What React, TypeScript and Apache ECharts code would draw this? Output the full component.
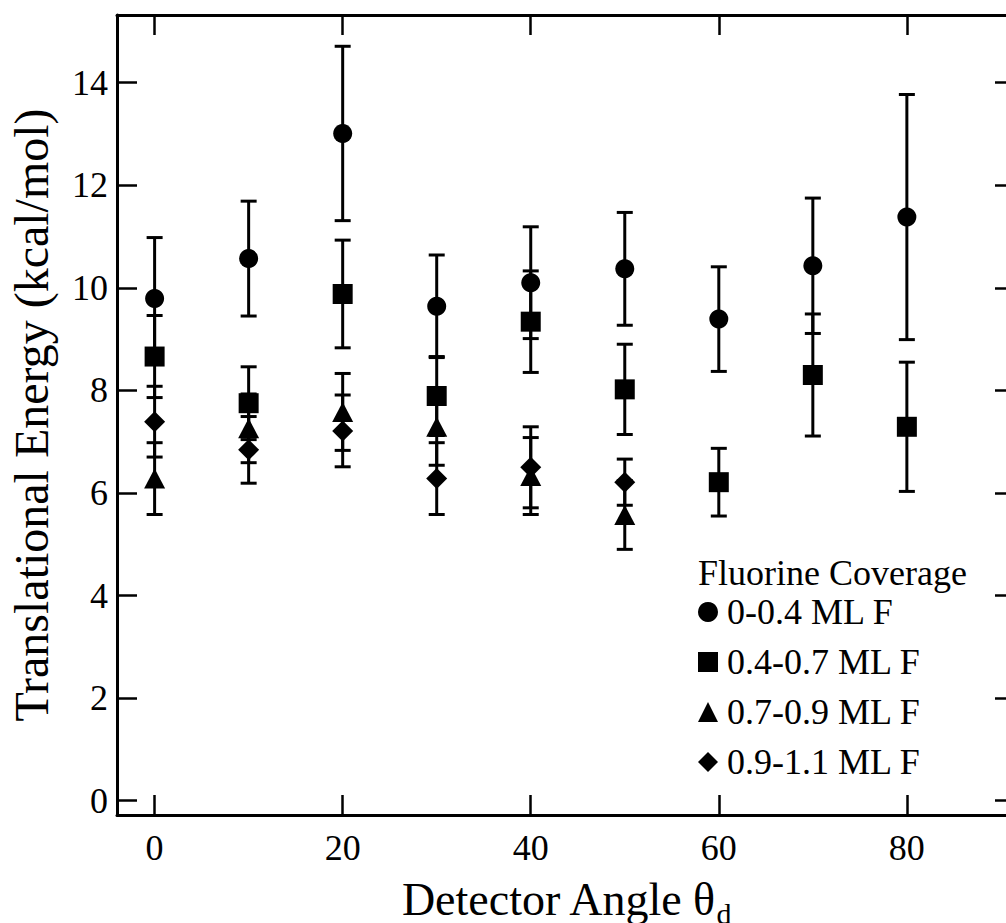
import React, { useEffect, useRef } from "react";
import * as echarts from "echarts";

const angles = [0, 10, 20, 30, 40, 50, 60, 70, 80];
const anglesShort = [0, 10, 20, 30, 40, 50];
const xTicks = [0, 20, 40, 60, 80];
const yTicks = [0, 2, 4, 6, 8, 10, 12, 14];

const circleMean = [9.79, 10.57, 13.01, 9.64, 10.1, 10.37, 9.39, 10.43, 11.38];
const circleErr = [1.19, 1.12, 1.7, 1.0, 1.09, 1.1, 1.02, 1.32, 2.39];
const squareMean = [8.66, 7.75, 9.88, 7.89, 9.34, 8.02, 6.21, 8.3, 7.29];
const squareErr = [0.8, 0.71, 1.05, 0.77, 0.99, 0.88, 0.66, 1.19, 1.26];
const triMean = [6.28, 7.26, 7.58, 7.29, 6.33, 5.57];
const triErr = [0.7, 0.67, 0.75, 0.75, 0.75, 0.67];
const diaMean = [7.39, 6.84, 7.21, 6.28, 6.5, 6.21];
const diaErr = [0.69, 0.65, 0.7, 0.7, 0.79, 0.45];

const names = ["0-0.4 ML F", "0.4-0.7 ML F", "0.7-0.9 ML F", "0.9-1.1 ML F"];

const FONT = "'Liberation Serif', 'Times New Roman', serif";

function errSeries(id: string, xs: number[], mean: number[], err: number[]) {
  return {
    type: "custom",
    name: id,
    z: 2,
    data: xs.map((x, i) => [x, mean[i] - err[i], mean[i] + err[i]]),
    encode: { x: 0, y: [1, 2] },
    renderItem: (params: any, api: any) => {
      const x = api.value(0);
      const lo = api.coord([x, api.value(1)]);
      const hi = api.coord([x, api.value(2)]);
      const hw = 8;
      const st = { stroke: "#000", lineWidth: 3 };
      return {
        type: "group",
        children: [
          { type: "line", shape: { x1: lo[0], y1: lo[1], x2: hi[0], y2: hi[1] }, style: st },
          { type: "line", shape: { x1: hi[0] - hw, y1: hi[1], x2: hi[0] + hw, y2: hi[1] }, style: st },
          { type: "line", shape: { x1: lo[0] - hw, y1: lo[1], x2: lo[0] + hw, y2: lo[1] }, style: st },
        ],
      };
    },
  };
}

function pointSeries(name: string, symbol: string, size: any, xs: number[], mean: number[]) {
  return {
    type: "scatter",
    name,
    symbol,
    symbolSize: size,
    z: 3,
    itemStyle: { color: "#000", opacity: 1 },
    data: xs.map((x, i) => [x, mean[i]]),
  };
}

export default function App() {
  const ref = useRef<HTMLDivElement>(null);
  useEffect(() => {
    if (!ref.current) return;
    const chart = echarts.init(ref.current, undefined, { renderer: "svg" });
    const axisLine = { show: true, onZero: false, lineStyle: { color: "#000", width: 3 } };
    const tickStyle = { color: "#000", width: 2.5 };
    chart.setOption({
      animation: false,
      backgroundColor: "#fff",
      grid: { left: 117, top: 15, width: 898, height: 800, containLabel: false, outerBoundsMode: "none" },
      xAxis: [
        {
          type: "value",
          min: -4,
          max: 91.5,
          position: "bottom",
          axisLine,
          splitLine: { show: false },
          axisTick: { show: true, inside: true, length: 20, lineStyle: tickStyle, customValues: xTicks },
          axisLabel: { color: "#000", fontFamily: FONT, fontSize: 36, margin: 15, customValues: xTicks },
          name: "Detector Angle θ{sub|d}",
          nameLocation: "middle",
          nameGap: 55,
          nameTextStyle: {
            color: "#000",
            fontFamily: FONT,
            fontSize: 46,
            rich: {
              sub: { fontFamily: FONT, fontSize: 30, color: "#000", padding: [28, 0, 0, 0], verticalAlign: "bottom" },
            },
          },
        },
        {
          type: "value",
          min: -4,
          max: 91.5,
          position: "top",
          axisLine,
          splitLine: { show: false },
          axisTick: { show: true, inside: true, length: 20, lineStyle: tickStyle, customValues: xTicks },
          axisLabel: { show: false },
        },
      ],
      yAxis: [
        {
          type: "value",
          min: -0.28,
          max: 15.32,
          position: "left",
          axisLine,
          splitLine: { show: false },
          axisTick: { show: true, inside: true, length: 20, lineStyle: tickStyle, customValues: yTicks },
          axisLabel: { color: "#000", fontFamily: FONT, fontSize: 36, margin: 9, customValues: yTicks },
          name: "Translational Energy (kcal/mol)",
          nameLocation: "middle",
          nameRotate: 90,
          nameGap: 62,
          nameTextStyle: { color: "#000", fontFamily: FONT, fontSize: 48 },
        },
        {
          type: "value",
          min: -0.28,
          max: 15.32,
          position: "right",
          axisLine,
          splitLine: { show: false },
          axisTick: { show: true, inside: true, length: 20, lineStyle: tickStyle, customValues: yTicks },
          axisLabel: { show: false },
        },
      ],
      legend: {
        data: names,
        orient: "vertical",
        left: 698,
        top: 592,
        padding: 0,
        itemWidth: 20,
        itemHeight: 20,
        itemGap: 10,
        textStyle: { color: "#000", fontFamily: FONT, fontSize: 36, lineHeight: 40, padding: [0, 0, 0, 4] },
        selectedMode: false,
      },
      graphic: [
        {
          type: "text",
          left: 698,
          top: 555,
          style: { text: "Fluorine Coverage", font: `36px ${FONT}`, fill: "#000" },
        },
      ],
      series: [
        errSeries("err0", angles, circleMean, circleErr),
        errSeries("err1", angles, squareMean, squareErr),
        errSeries("err2", anglesShort, triMean, triErr),
        errSeries("err3", anglesShort, diaMean, diaErr),
        pointSeries(names[0], "circle", 19, angles, circleMean),
        pointSeries(names[1], "rect", 20, angles, squareMean),
        pointSeries(names[2], "triangle", [21, 20], anglesShort, triMean),
        pointSeries(names[3], "diamond", 21, anglesShort, diaMean),
      ],
    });
    return () => chart.dispose();
  }, []);
  return (
    <div style={{ position: "fixed", left: 0, top: 0, width: 1006, height: 923, overflow: "hidden", background: "#fff" }}>
      <div ref={ref} style={{ width: 1040, height: 923 }} />
    </div>
  );
}
